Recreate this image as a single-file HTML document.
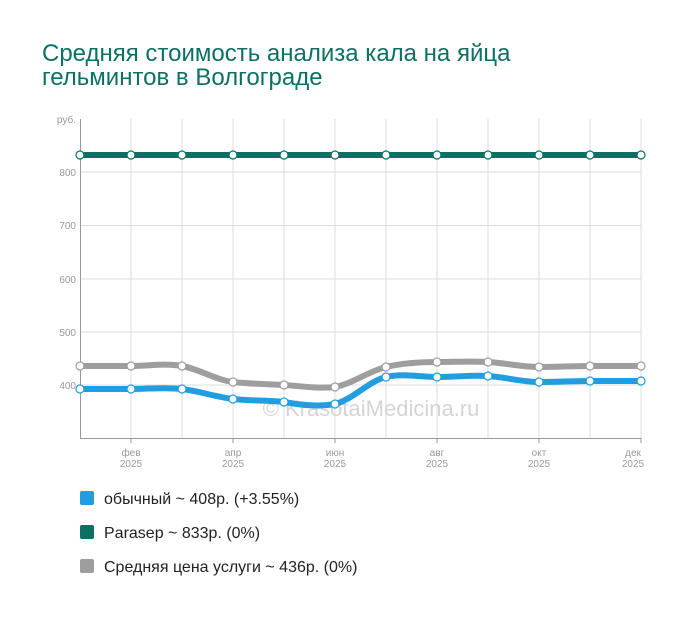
<!DOCTYPE html>
<html><head><meta charset="utf-8"><style>
body{margin:0;background:#fff;width:700px;height:616px;overflow:hidden;font-family:"Liberation Sans",sans-serif}
</style></head><body>
<svg width="700" height="616" xmlns="http://www.w3.org/2000/svg" font-family="Liberation Sans, sans-serif">
<rect width="700" height="616" fill="#fff"/>
<text x="42" y="61" font-size="24" fill="#0c7065">Средняя стоимость анализа кала на яйца</text>
<text x="42" y="85" font-size="24" fill="#0c7065">гельминтов в Волгограде</text>
<g stroke="#dcdcdc" stroke-width="1">
<line x1="80" y1="172" x2="641" y2="172"/><line x1="80" y1="225.5" x2="641" y2="225.5"/><line x1="80" y1="279" x2="641" y2="279"/><line x1="80" y1="332" x2="641" y2="332"/><line x1="80" y1="385" x2="641" y2="385"/>
<line x1="131" y1="119" x2="131" y2="438"/><line x1="182" y1="119" x2="182" y2="438"/><line x1="233" y1="119" x2="233" y2="438"/><line x1="284" y1="119" x2="284" y2="438"/><line x1="335" y1="119" x2="335" y2="438"/><line x1="386" y1="119" x2="386" y2="438"/><line x1="437" y1="119" x2="437" y2="438"/><line x1="488" y1="119" x2="488" y2="438"/><line x1="539" y1="119" x2="539" y2="438"/><line x1="590" y1="119" x2="590" y2="438"/><line x1="641" y1="119" x2="641" y2="438"/>
</g>
<g stroke="#999" stroke-width="1">
<line x1="80.5" y1="119" x2="80.5" y2="438"/><line x1="80" y1="438.5" x2="641" y2="438.5"/>
<line x1="131" y1="438" x2="131" y2="443"/><line x1="233" y1="438" x2="233" y2="443"/><line x1="335" y1="438" x2="335" y2="443"/><line x1="437" y1="438" x2="437" y2="443"/><line x1="539" y1="438" x2="539" y2="443"/><line x1="641" y1="438" x2="641" y2="443"/>
</g>
<g font-size="10" fill="#999" text-anchor="end">
<text x="76" y="123">руб.</text><text x="76" y="176">800</text><text x="76" y="229">700</text><text x="76" y="283">600</text><text x="76" y="336">500</text><text x="76" y="389">400</text>
</g>
<g font-size="10" fill="#999" text-anchor="middle">
<text x="131" y="456">фев</text><text x="131" y="467">2025</text>
<text x="233" y="456">апр</text><text x="233" y="467">2025</text>
<text x="335" y="456">июн</text><text x="335" y="467">2025</text>
<text x="437" y="456">авг</text><text x="437" y="467">2025</text>
<text x="539" y="456">окт</text><text x="539" y="467">2025</text>
<text x="633" y="456">дек</text><text x="633" y="467">2025</text>
</g>
<text x="371" y="416" font-size="22" fill="#d4d4d4" text-anchor="middle">© KrasotaiMedicina.ru</text>
<g fill="none" stroke-width="6" stroke-linecap="round">
<path stroke="#0c7065" d="M80 155 L641 155"/>
<path stroke="#9e9e9e" d="M80 366 C97 366 114 366 131 366 C148 366 165 363 182 366 C199 369 216 380 233 382 C250 384 267 384 284 385 C301 386 318 389 335 387 C352 384 369 371 386 367 C403 363 420 362 437 362 C454 362 471 361 488 362 C505 363 522 367 539 367 C556 367 573 366 590 366 C607 366 624 366 641 366"/>
<path stroke="#229ee0" d="M80 389 C97 389 114 389 131 389 C148 389 165 387 182 389 C199 391 216 397 233 399 C250 401 267 400 284 402 C301 405 318 407 335 404 C352 400 369 381 386 377 C403 373 420 377 437 377 C454 377 471 375 488 376 C505 377 522 382 539 382 C556 382 573 381 590 381 C607 381 624 381 641 381"/>
</g>
<g fill="#fff" stroke-width="1.2">
<g stroke="#0c7065"><circle cx="80" cy="155" r="4"/><circle cx="131" cy="155" r="4"/><circle cx="182" cy="155" r="4"/><circle cx="233" cy="155" r="4"/><circle cx="284" cy="155" r="4"/><circle cx="335" cy="155" r="4"/><circle cx="386" cy="155" r="4"/><circle cx="437" cy="155" r="4"/><circle cx="488" cy="155" r="4"/><circle cx="539" cy="155" r="4"/><circle cx="590" cy="155" r="4"/><circle cx="641" cy="155" r="4"/></g>
<g stroke="#9e9e9e"><circle cx="80" cy="366" r="4"/><circle cx="131" cy="366" r="4"/><circle cx="182" cy="366" r="4"/><circle cx="233" cy="382" r="4"/><circle cx="284" cy="385" r="4"/><circle cx="335" cy="387" r="4"/><circle cx="386" cy="367" r="4"/><circle cx="437" cy="362" r="4"/><circle cx="488" cy="362" r="4"/><circle cx="539" cy="367" r="4"/><circle cx="590" cy="366" r="4"/><circle cx="641" cy="366" r="4"/></g>
<g stroke="#229ee0"><circle cx="80" cy="389" r="4"/><circle cx="131" cy="389" r="4"/><circle cx="182" cy="389" r="4"/><circle cx="233" cy="399" r="4"/><circle cx="284" cy="402" r="4"/><circle cx="335" cy="404" r="4"/><circle cx="386" cy="377" r="4"/><circle cx="437" cy="377" r="4"/><circle cx="488" cy="376" r="4"/><circle cx="539" cy="382" r="4"/><circle cx="590" cy="381" r="4"/><circle cx="641" cy="381" r="4"/></g>
</g>
<rect x="80" y="491" width="14" height="14" rx="2" fill="#229ee0"/>
<rect x="80" y="525" width="14" height="14" rx="2" fill="#0c7065"/>
<rect x="80" y="559" width="14" height="14" rx="2" fill="#9e9e9e"/>
<g font-size="16" fill="#222">
<text x="104" y="504">обычный ~ 408р. (+3.55%)</text>
<text x="104" y="538">Parasep ~ 833р. (0%)</text>
<text x="104" y="572">Средняя цена услуги ~ 436р. (0%)</text>
</g>
</svg>
</body></html>
